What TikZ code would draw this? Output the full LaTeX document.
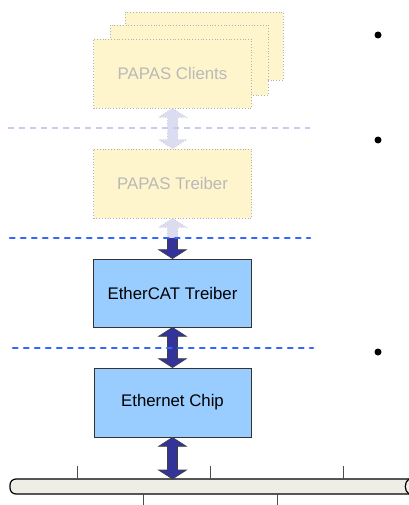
\documentclass[tikz,border=0pt]{standalone}
\usepackage{fontspec}
\setmainfont{Liberation Sans}
\usetikzlibrary{calc}
\definecolor{boxblue}{HTML}{99CCFF}
\definecolor{arrowblue}{HTML}{333399}
\definecolor{fadeyellow}{HTML}{FFF5CC}
\definecolor{fadearrow}{HTML}{DCDCF0}
\definecolor{dashblue}{HTML}{3366FF}
\definecolor{dotblue}{HTML}{C4CCF0}
\definecolor{busfill}{HTML}{EEEEE6}
\tikzset{
  boxfont/.style={font=\fontsize{16.8}{20}\selectfont},
  layerbox/.style={draw=black!80, line width=0.8pt, fill=boxblue, minimum width=158pt, minimum height=68pt, inner sep=0pt, boxfont},
  fadebox/.style={draw=gray!60, dotted, line width=0.8pt, fill=fadeyellow, minimum width=158pt, minimum height=69pt, inner sep=0pt, text=gray!55, boxfont},
  darkarrow/.style={fill=arrowblue, draw=black!75, line width=0.6pt},
  fadedarrow/.style={fill=fadearrow, draw=gray!55, dotted, line width=0.6pt},
  layerline/.style={dashblue, line width=2.6pt, dash pattern=on 4.5pt off 6.5pt, line cap=round},
  fadeline/.style={dotblue, line width=2.2pt, dash pattern=on 6pt off 5pt},
  busbox/.style={draw=black, line width=1.2pt, fill=busfill, rounded corners=6pt, minimum width=410pt, minimum height=15pt, inner sep=0pt},
  tick/.style={black!70, line width=0.8pt},
  bulletdot/.style={fill=black, draw=none},
}
\newcommand\vdarrow[3]{\path[#1] let \p1=(#2), \p2=(#3) in
  (\x1,\y1) -- ++(-14pt,-9pt) -- ++(9pt,0pt) -- (\x1-5pt,\y2+9pt) -- ++(-9pt,0pt) -- (\x1,\y2)
  -- ++(14pt,9pt) -- ++(-9pt,0pt) -- (\x1+5pt,\y1-9pt) -- ++(9pt,0pt) -- cycle;}
\begin{document}
\begin{tikzpicture}[x=1pt,y=-1pt]
\useasboundingbox (0,0) rectangle (408,505);
% faded client boxes
\node[fadebox, minimum height=68pt] (clients3) at (204,46) {};
\node[fadebox, minimum height=70pt] (clients2) at (189,60) {};
\node[fadebox] (clients1) at (172.5,73.5) {PAPAS Clients};
\node[fadebox] (treiber) at (172.5,183.5) {PAPAS Treiber};
% layer boxes
\node[layerbox] (ethercat) at (172.5,293) {EtherCAT Treiber};
\node[layerbox, minimum height=69pt, minimum width=157pt] (chip) at (172.5,402.5) {Ethernet Chip};
% bus
\node[busbox] (bus) at (215,486.5) {};
\draw[black, line width=1.2pt] (409,479) .. controls (404,482) and (404,491) .. (409,494);
\foreach \tx in {77,210,343} \draw[tick] (\tx,466) -- (\tx,479);
\foreach \tx in {143,277} \draw[tick] (\tx,494) -- (\tx,505);
\coordinate (busin) at (172.5,479);
% arrows
\vdarrow{fadedarrow}{clients1.south}{treiber.north}
\begin{scope}
  \clip (0,0) rectangle (408,238);
  \vdarrow{fadedarrow}{treiber.south}{ethercat.north}
\end{scope}
\begin{scope}
  \clip (0,238) rectangle (408,300);
  \vdarrow{darkarrow}{treiber.south}{ethercat.north}
\end{scope}
\vdarrow{darkarrow}{ethercat.south}{chip.north}
\vdarrow{darkarrow}{chip.south}{busin}
% layer lines
\coordinate (l1a) at (8,128); \coordinate (l1b) at (310,128);
\coordinate (l2a) at (10,238); \coordinate (l2b) at (310,238);
\coordinate (l3a) at (13,348); \coordinate (l3b) at (313,348);
\draw[fadeline] (l1a) -- (l1b);
\draw[layerline] (l2a) -- (l2b);
\draw[layerline] (l3a) -- (l3b);
% bullets
\foreach \by in {35,140,352} \fill[bulletdot] (378,\by) circle (3.5pt);
\end{tikzpicture}
\end{document}
